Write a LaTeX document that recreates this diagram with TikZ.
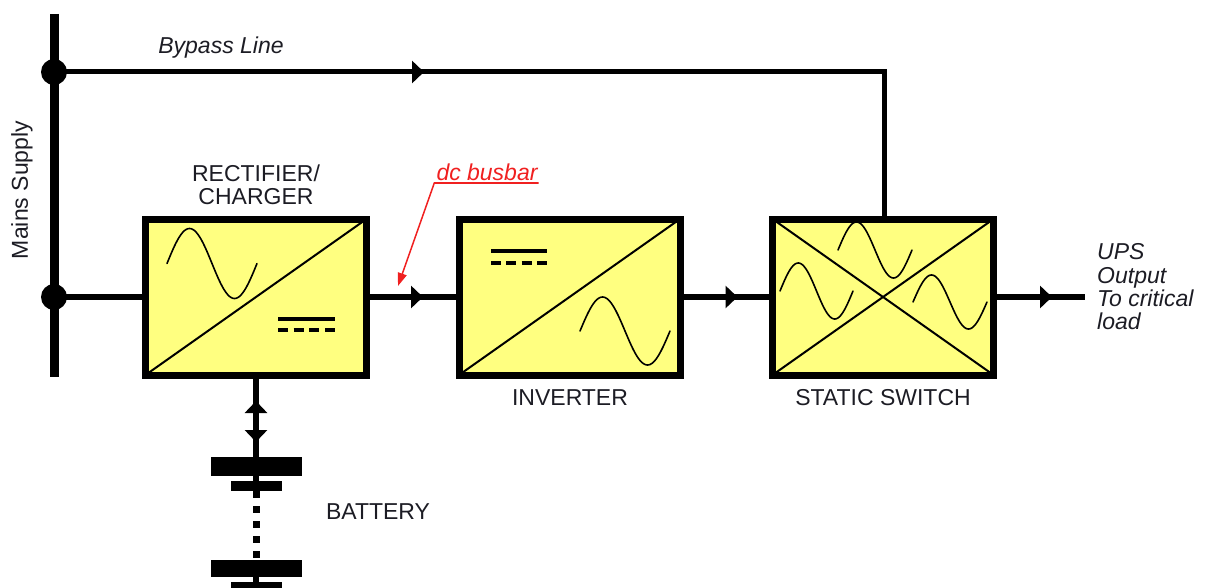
\documentclass[tikz,border=0pt]{standalone}
\usepackage{fontspec}
\setmainfont{Liberation Sans}
\usetikzlibrary{arrows.meta,decorations.markings,calc}
\definecolor{boxyellow}{RGB}{255,255,128}
\definecolor{txt}{RGB}{28,28,36}
\definecolor{busred}{RGB}{240,32,32}
\begin{document}
\begin{tikzpicture}[x=1pt,y=-1pt,
  conv/.style={draw=black, line width=7pt, fill=boxyellow, minimum width=221pt,
    minimum height=156pt, outer sep=0pt, inner sep=0pt},
  diagone/.style={path picture={\draw[line width=2pt]
    (path picture bounding box.south west) -- (path picture bounding box.north east);}},
  diagtwo/.style={path picture={\draw[line width=2pt]
    (path picture bounding box.south west) -- (path picture bounding box.north east)
    (path picture bounding box.north west) -- (path picture bounding box.south east);}},
  mainline/.style={line width=6pt},
  bypassline/.style={line width=5pt},
  midarrow/.style={postaction={decorate,decoration={markings,
    mark=at position #1 with {\arrow{Triangle[length=12pt,width=22pt]}}}}},
  dotnode/.style={circle, fill=black, minimum size=26pt, inner sep=0pt, outer sep=0pt},
  plate/.style={fill=black, draw=none, inner sep=0pt, outer sep=0pt},
  lbl/.style={text=txt, font=\fontsize{23}{23.3}\selectfont, inner sep=0pt},
  itlbl/.style={text=txt, font=\fontsize{23}{23.3}\selectfont\itshape, inner sep=0pt},
  sinecurve/.style={line width=1.6pt, line cap=round},
  dcsym/.style={line width=4.3pt}
]
\useasboundingbox (0,0) rectangle (1206,588);

% boxes
\node[conv,diagone] (rect) at (256,297) {};
\node[conv,diagone] (inv) at (569.5,297) {};
\node[conv,diagtwo] (sw) at (883,297) {};

% mains bar and junction dots
\coordinate (mtop) at (54,14);
\coordinate (mbot) at (54,377);
\draw[line width=9pt] (mtop) -- (mbot);
\node[dotnode] (d1) at (54,72) {};
\node[dotnode] (d2) at (54,297) {};

% bypass line
\coordinate (bc) at (884,72);
\draw[bypassline, midarrow=370pt] (d1.center) -- (bc) -- (bc |- sw.north);

% main line
\coordinate (out) at (1085,297);
\draw[mainline] (d2.center) -- (rect.west);
\draw[mainline, midarrow=56.5pt] (rect.east) -- (inv.west);
\draw[mainline, midarrow=57.5pt] (inv.east) -- (sw.west);
\draw[mainline, midarrow=58.5pt] (sw.east) -- (out);

% sine curves
\draw[sinecurve] plot[domain=0:1,samples=73,smooth] ({167+90*\x},{263.5-35*sin(360*\x)});
\draw[sinecurve] plot[domain=0:1,samples=73,smooth] ({580+90*\x},{331-34*sin(360*\x)});
\draw[sinecurve] plot[domain=0:1,samples=73,smooth] ({780+73*\x},{291-28*sin(360*\x)});
\draw[sinecurve] plot[domain=0:1,samples=73,smooth] ({838+74*\x},{250-28*sin(360*\x)});
\draw[sinecurve] plot[domain=0:1,samples=73,smooth] ({913+74*\x},{302-27*sin(360*\x)});

% dc symbols
\draw[dcsym] (278,319) -- (335,319);
\draw[dcsym, dash pattern=on 10pt off 5.67pt] (278,330) -- (335,330);
\draw[dcsym] (491,251) -- (547,251);
\draw[dcsym, dash pattern=on 10pt off 5.33pt] (491,263) -- (547,263);

% battery
\node[plate, minimum width=91pt, minimum height=19pt] (b1) at (256,466.5) {};
\node[plate, minimum width=51pt, minimum height=10pt] (b2) at (256,486) {};
\node[plate, minimum width=91pt, minimum height=17pt] (b3) at (256,568.5) {};
\node[plate, minimum width=51pt, minimum height=10pt] (b4) at (256,587) {};
\draw[mainline, midarrow=56pt] (b1.north) -- (rect.south);
\draw[mainline, midarrow=67pt] (rect.south) -- (b1.north);
\draw[mainline] (b1.south) -- (b2.north);
\draw[line width=7pt, dash pattern=on 7pt off 8pt] (b2.south) -- (b3.north);
\draw[mainline] (b3.south) -- (b4.north);

% labels
\node[lbl, align=center] (rl) at (256,185) {RECTIFIER/\\CHARGER};
\node[lbl] (il) at (570,398) {INVERTER};
\node[lbl] (sl) at (883,398) {STATIC SWITCH};
\node[lbl] (bl) at (378,512) {BATTERY};
\node[itlbl] (byl) at (221,48) {Bypass Line};
\node[lbl, rotate=90] (ml) at (22,190) {Mains Supply};
\node[itlbl, align=left, anchor=west] (ups) at (1097,287) {UPS\\Output\\To critical\\load};

% dc busbar annotation
\node[itlbl, text=busred, anchor=south] (dcl) at (487,180.5) {dc busbar};
\coordinate (dctip) at (398,286);
\draw[busred, line width=1.5pt, -{Triangle[length=13pt,width=9pt]}]
  ($(dcl.south east)+(1,2.5)$) -- ($(dcl.south west)+(-2,2.5)$) -- (dctip);
\end{tikzpicture}
\end{document}
